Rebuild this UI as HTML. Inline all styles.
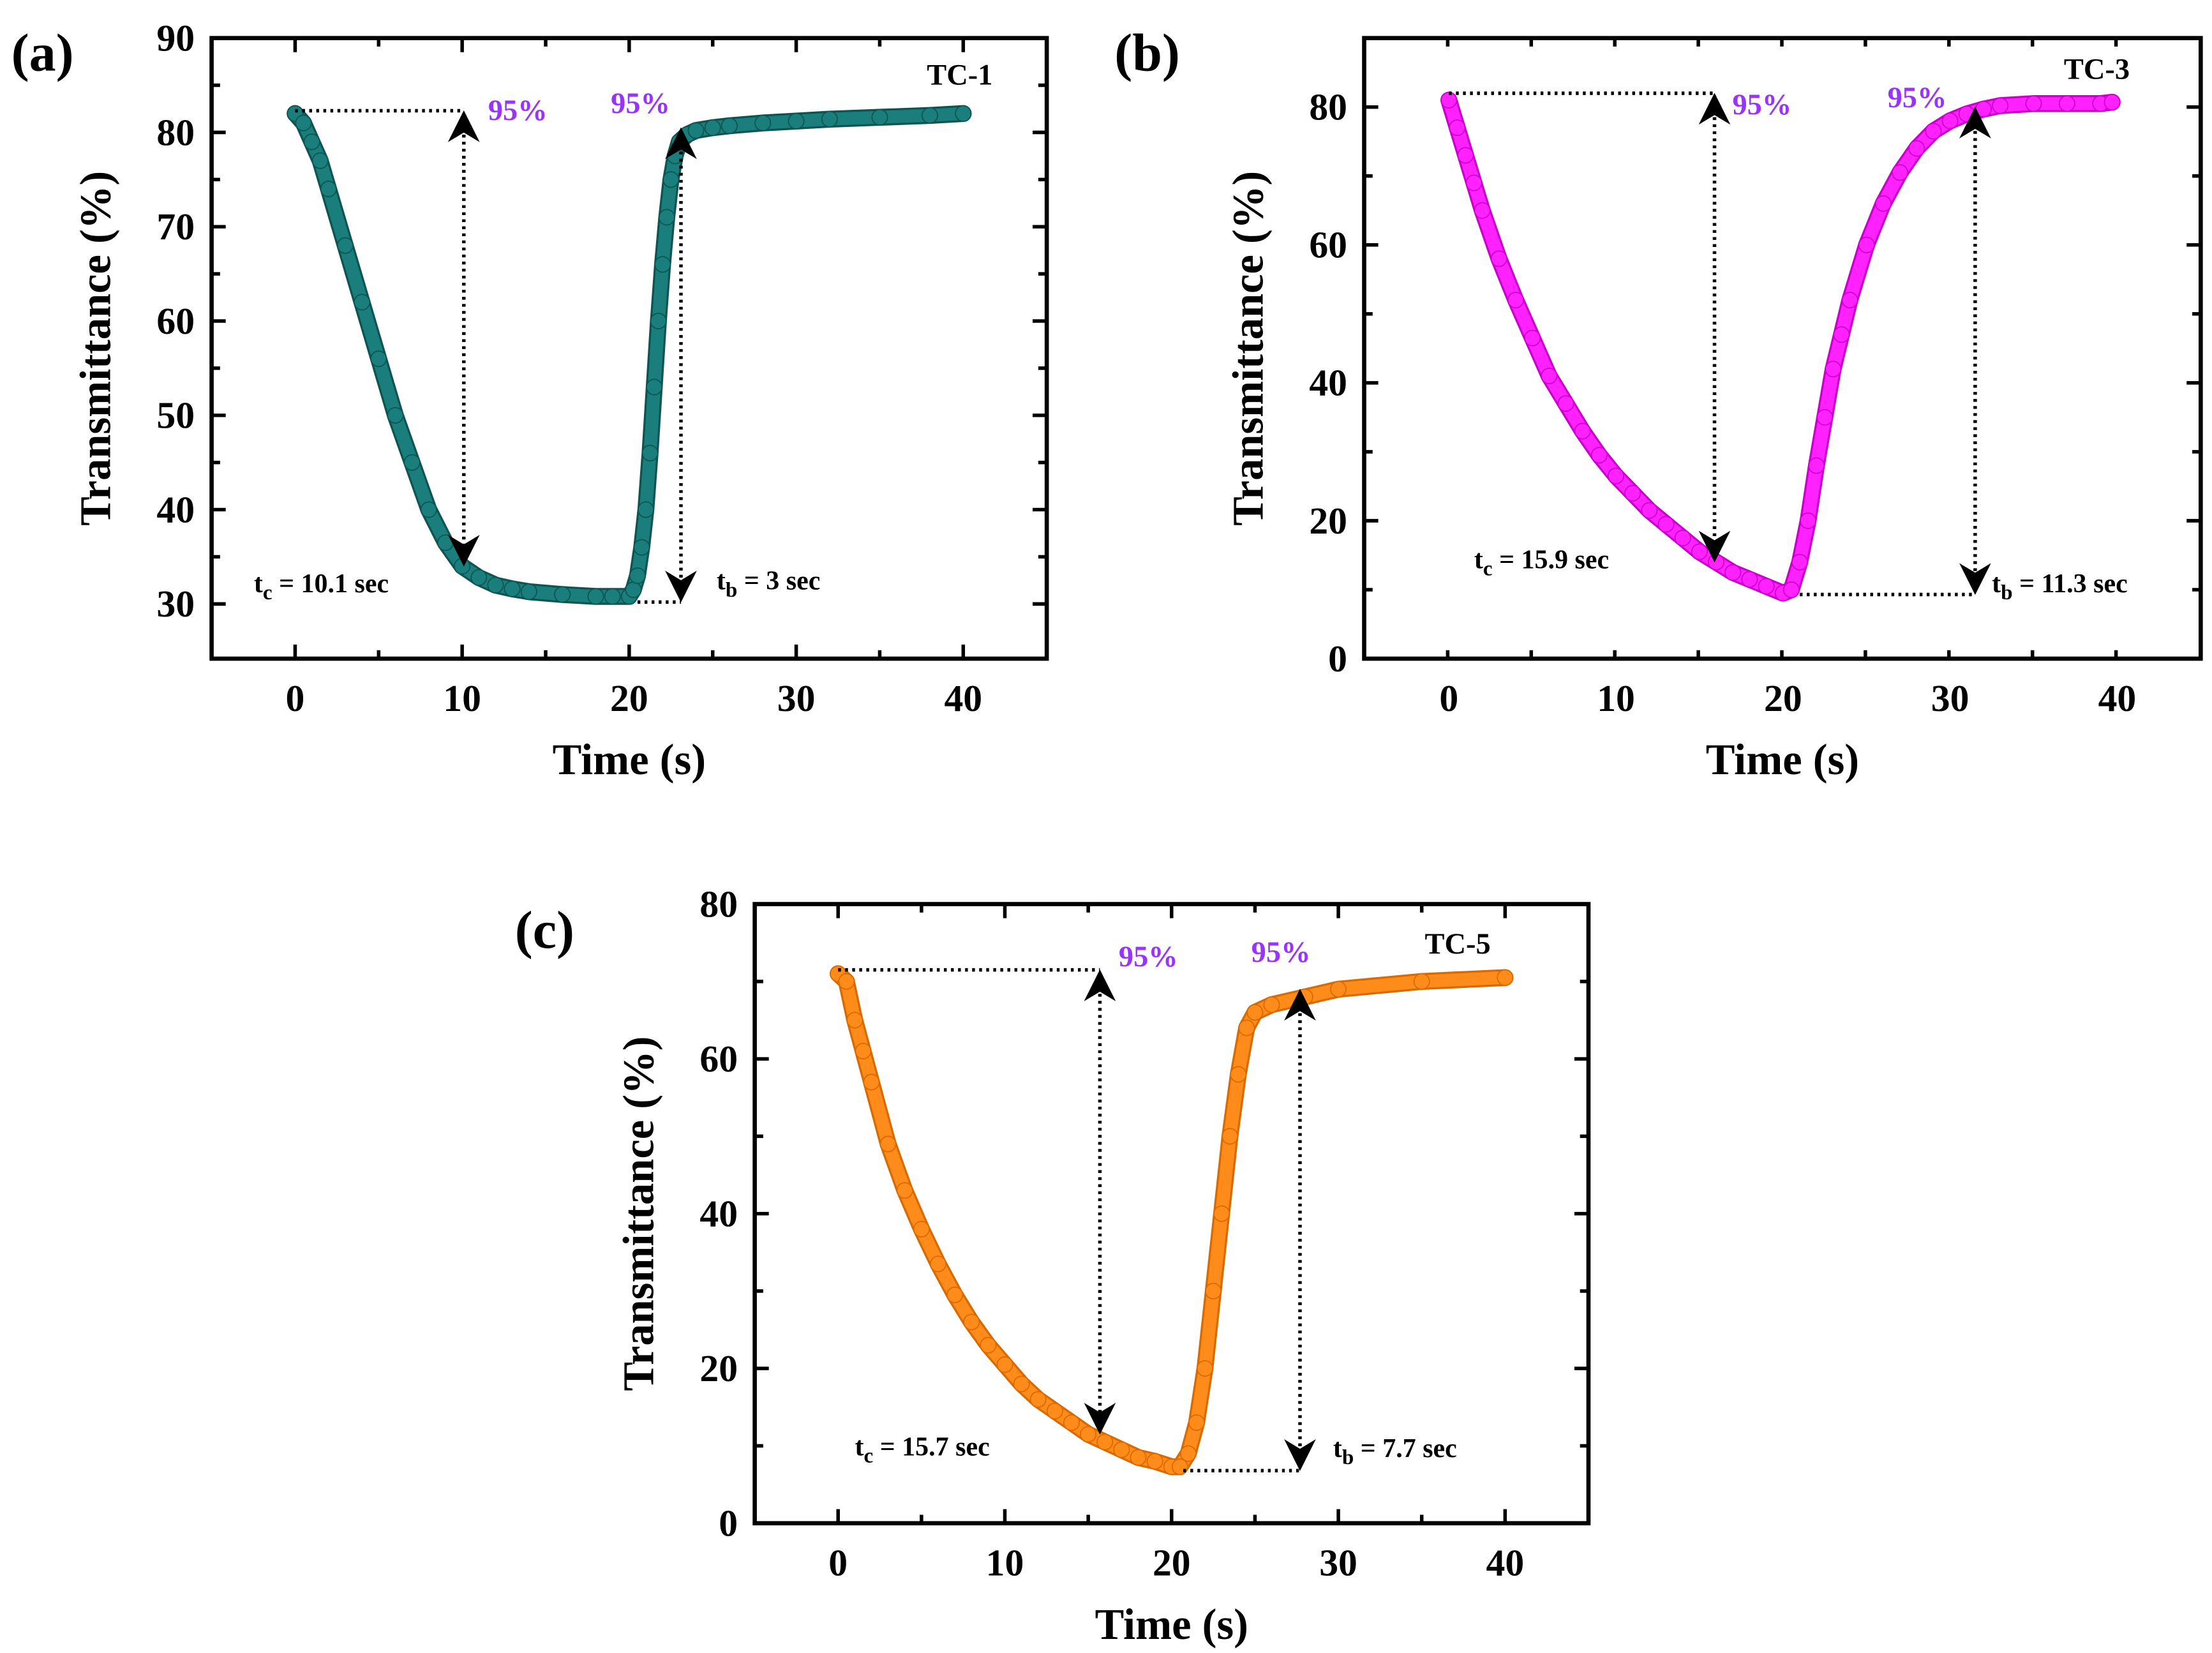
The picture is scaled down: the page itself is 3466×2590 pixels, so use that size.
<!DOCTYPE html>
<html><head><meta charset="utf-8"><style>
html,body{margin:0;padding:0;background:#fff;}
svg{display:block;font-family:"Liberation Serif",serif;font-weight:bold;}
</style></head><body>
<svg id="fig" width="3466" height="2590" viewBox="0 0 1568 1172" preserveAspectRatio="none" xmlns="http://www.w3.org/2000/svg">
<defs>
<marker id="ah" viewBox="0 0 10 10" refX="9" refY="5" markerWidth="9" markerHeight="9" orient="auto-start-reverse"><path d="M0,0 L10,5 L0,10 L3,5 z" fill="#000"/></marker>
</defs>
</svg>
<script>
// ---- data ----
const timeA = [0,0.5,1,1.5,2,3,4,5,6,7,8,9,10,11,12,13,14,16,18,19,20,20.25,20.5,20.75,21,21.25,21.5,21.75,22,22.25,22.5,22.75,23,23.5,24,25,26,28,30,32,35,38,40];
const transA = [82,81,79,77,74,68,62,56,50,45,40,36.5,34,32.8,32,31.6,31.3,31,30.8,30.8,30.8,31.5,33,36,40,46,53,60,66,71,75,77.5,79,79.8,80.2,80.5,80.7,81,81.2,81.4,81.6,81.8,82];
const timeB = [0,0.5,1,1.5,2,3,4,5,6,7,8,9,10,11,12,13,14,15,16,17,18,19,20,20.5,21,21.5,22,22.5,23,23.5,24,25,26,27,28,29,30,31,32,33,35,37,39,39.7];
const transB = [81,77,73,69,65,58,52,46.5,41,37,33,29.5,26.5,24,21.5,19.5,17.5,15.5,14,12.5,11.5,10.5,9.5,10,14,20,28,35,42,47,52,60,66,70.5,74,76.5,78,79,79.7,80.2,80.5,80.5,80.5,80.7];
const timeC = [0,0.5,1,1.5,2,3,4,5,6,7,8,9,10,11,12,13,14,15,16,17,18,19,20,20.5,21,21.5,22,22.5,23,23.5,24,24.5,25,26,28,30,35,40];
const transC = [71,70,65,61,57,49,43,38,33.5,29.5,26,23,20.5,18,16,14.5,13,11.5,10.5,9.5,8.5,8,7.3,7.3,9,13,20,30,40,50,58,64,66,67,68,69,70,70.5];
const xTicks = [0,10,20,30,40];
const yTicksA = [30,40,50,60,70,80,90];
const yTicksB = [0,20,40,60,80];
const yTicksC = [0,20,40,60,80];

const NS="http://www.w3.org/2000/svg";
const svg=document.getElementById('fig');
function mk(tag,attrs,parent){const e=document.createElementNS(NS,tag);for(const k in attrs)e.setAttribute(k,attrs[k]);(parent||svg).appendChild(e);return e;}

function panel(cfg){
  const g=mk('g',{});
  
  
  const X=v=>cfg.x0+(v-cfg.xmin)/(cfg.xmax-cfg.xmin)*(cfg.x1-cfg.x0);
  const Y=v=>cfg.y1-(v-cfg.ymin)/(cfg.ymax-cfg.ymin)*(cfg.y1-cfg.y0);
  const sg=mk('g',{},g);
  
  
  let pts=cfg.t.map((t,i)=>X(t)+','+Y(cfg.v[i])).join(' ');
  mk('polyline',{points:pts,fill:'none',stroke:cfg.dark,'stroke-width':12,'stroke-linejoin':'round','stroke-linecap':'round'},sg);
  mk('polyline',{points:pts,fill:'none',stroke:cfg.color,'stroke-width':9,'stroke-linejoin':'round','stroke-linecap':'round'},sg);
  cfg.t.forEach((t,i)=>{
    const c=mk('circle',{cx:X(t),cy:Y(cfg.v[i]),r:5.5,fill:cfg.color,stroke:cfg.dark,'stroke-width':0.8},sg);
    
    
  });
  const fr=mk('rect',{x:cfg.x0,y:cfg.y0,width:cfg.x1-cfg.x0,height:cfg.y1-cfg.y0,fill:'none',stroke:'#000','stroke-width':3},g);
  
  
  for(let v=cfg.xmin+0;v<=cfg.xmax+0.01;v+=5){
    if(v<=cfg.xmin+0.5||v>=cfg.xmax-0.5)continue;
    const major=(v%10===0);const L=major?10:6;
    mk('line',{x1:X(v),x2:X(v),y1:cfg.y1,y2:cfg.y1-L,stroke:'#000','stroke-width':2.5},g);
    mk('line',{x1:X(v),x2:X(v),y1:cfg.y0,y2:cfg.y0+L,stroke:'#000','stroke-width':2.5},g);
  }
  xTicks.forEach(v=>{
    const t=mk('text',{x:X(v),y:cfg.y1+37,'font-size':27,'text-anchor':'middle'},g);t.textContent=v;
    
    
  });
  const yt=cfg.yticks, step=yt[1]-yt[0];
  for(let v=yt[0];v<=cfg.ymax+0.01;v+=step/2){
    const major=Math.abs(((v-yt[0])/step)-Math.round((v-yt[0])/step))<0.01;const L=major?10:6;
    if(v<=cfg.ymin+0.3&&v>=cfg.ymin-0.3)continue;
    if(Math.abs(v-cfg.ymax)<0.3)continue;
    mk('line',{x1:cfg.x0,x2:cfg.x0+L,y1:Y(v),y2:Y(v),stroke:'#000','stroke-width':2.5},g);
    mk('line',{x1:cfg.x1,x2:cfg.x1-L,y1:Y(v),y2:Y(v),stroke:'#000','stroke-width':2.5},g);
  }
  yt.forEach(v=>{
    const t=mk('text',{x:cfg.x0-12,y:Y(v)+9,'font-size':27,'text-anchor':'end'},g);t.textContent=v;
    
    
  });
  const xt=mk('text',{x:(cfg.x0+cfg.x1)/2,y:cfg.y1+82,'font-size':31,'text-anchor':'middle'},g);xt.textContent='Time (s)';
  
  
  const cy=(cfg.y0+cfg.y1)/2;
  const ytt=mk('text',{x:cfg.x0-72,y:cy,'font-size':31,'text-anchor':'middle',transform:`rotate(-90 ${cfg.x0-72} ${cy})`},g);ytt.textContent='Transmittance (%)';
  
  
  const pl=mk('text',{x:cfg.lx,y:cfg.ly,'font-size':38},g);pl.textContent=cfg.label;
  
  
  const sl=mk('text',{x:cfg.sx,y:cfg.sy,'font-size':21},g);sl.textContent=cfg.sample;
  
  
  const a=cfg.ann;
  const dl={stroke:'#000','stroke-width':2.5,'stroke-dasharray':'2,3',fill:'none'};
  mk('line',Object.assign({x1:X(0),x2:X(a.tc),y1:Y(a.top1),y2:Y(a.top1)},dl),g);
  mk('line',Object.assign({x1:X(a.tc),x2:X(a.tc),y1:Y(a.top1)+2,y2:Y(a.bot1)-2,'marker-start':'url(#ah)','marker-end':'url(#ah)'},dl),g);
  mk('line',Object.assign({x1:X(a.hx0),x2:X(a.tb),y1:Y(a.bot2),y2:Y(a.bot2)},dl),g);
  mk('line',Object.assign({x1:X(a.tb),x2:X(a.tb),y1:Y(a.top2)+2,y2:Y(a.bot2)-2,'marker-start':'url(#ah)','marker-end':'url(#ah)'},dl),g);
  const p1=mk('text',{x:a.p1x,y:a.p1y,'font-size':21,fill:'#9933ff'},g);p1.textContent='95%';
  
  
  const p2=mk('text',{x:a.p2x,y:a.p2y,'font-size':21,fill:'#9933ff'},g);p2.textContent='95%';
  
  
  const tc=mk('text',{x:a.tcx,y:a.tcy,'font-size':19},g);
  tc.innerHTML='t<tspan font-size="15" dy="5">c</tspan><tspan dy="-5"> =  '+a.tcs+' sec</tspan>';
  
  
  const tb=mk('text',{x:a.tbx,y:a.tby,'font-size':19},g);
  tb.innerHTML='t<tspan font-size="15" dy="5">b</tspan><tspan dy="-5"> = '+a.tbs+' sec</tspan>';
  
  
}

panel({name:'panel-a',x0:150,x1:742,y0:27,y1:467,xmin:-5,xmax:45,ymin:24.2,ymax:90,yticks:yTicksA,
  t:timeA,v:transA,color:'#1a7f7c',dark:'#0d5553',label:'(a)',lx:8,ly:50,sample:'TC-1',sx:657,sy:60,
  ann:{tc:10.1,top1:82.3,bot1:34,hx0:20.5,tb:23.1,top2:80.5,bot2:30.2,p1x:346,p1y:85,p2x:433,p2y:80,
  tcx:180,tcy:420,tcs:'10.1',tbx:508,tby:418,tbs:'3'}});
panel({name:'panel-b',x0:967,x1:1560,y0:27,y1:467,xmin:-5.07,xmax:45,ymin:0,ymax:90,yticks:yTicksB,
  t:timeB,v:transB,color:'#ff22ff',dark:'#cc00cc',label:'(b)',lx:790,ly:50,sample:'TC-3',sx:1463,sy:56,
  ann:{tc:15.9,top1:82,bot1:14,hx0:21,tb:31.5,top2:80,bot2:9.3,p1x:1228,p1y:81,p2x:1338,p2y:76,
  tcx:1045,tcy:403,tcs:'15.9',tbx:1412,tby:420,tbs:'11.3'}});
panel({name:'panel-c',x0:535,x1:1126,y0:641,y1:1080,xmin:-5,xmax:45,ymin:0,ymax:80,yticks:yTicksC,
  t:timeC,v:transC,color:'#ff8c1a',dark:'#d96a00',label:'(c)',lx:365,ly:672,sample:'TC-5',sx:1010,sy:676,
  ann:{tc:15.7,top1:71.5,bot1:11.5,hx0:20.7,tb:27.7,top2:69,bot2:6.8,p1x:793,p1y:685,p2x:887,p2y:682,
  tcx:606,tcy:1032,tcs:'15.7',tbx:945,tby:1033,tbs:'7.7'}});
</script>
</body></html>
